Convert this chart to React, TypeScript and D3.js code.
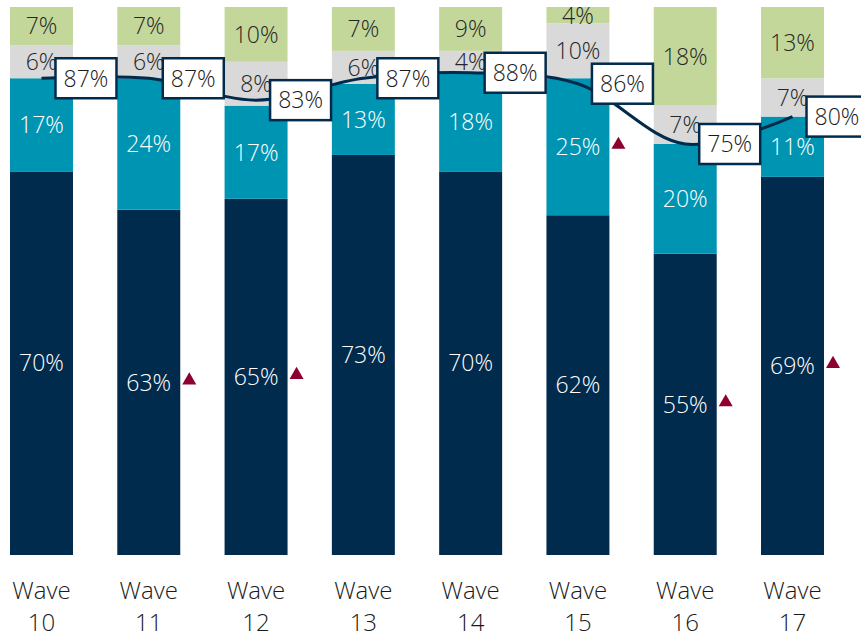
import React, { useRef, useEffect } from 'react';
import * as d3 from 'd3';

const waves = ['10', '11', '12', '13', '14', '15', '16', '17'];
const navyValues = [70, 63, 65, 73, 70, 62, 55, 69];
const tealValues = [17, 24, 17, 13, 18, 25, 20, 11];
const grayValues = [6, 6, 8, 6, 4, 10, 7, 7];
const greenValues = [7, 7, 10, 7, 9, 4, 18, 13];
const totalValues = [87, 87, 83, 87, 88, 86, 75, 80];
// which segment carries a significance triangle, per wave
const upMarks = [null, 'navy', 'navy', null, null, 'teal', 'navy', 'navy'];

const seriesKeys = ['navy', 'teal', 'gray', 'green'];
const fills: Record<string, string> = {
  navy: '#002b4d',
  teal: '#0094b3',
  gray: '#d9d9d9',
  green: '#c4d79b',
};
const textFills: Record<string, string> = {
  navy: '#ffffff',
  teal: '#ffffff',
  gray: '#262626',
  green: '#262626',
};

const W = 861;
const H = 638;
const FONT = "'Open Sans', 'Noto Sans', sans-serif";
const FS = 23;

export default function App() {
  const svgRef = useRef<SVGSVGElement>(null);

  useEffect(() => {
    document.body.style.margin = '0';
    if (!svgRef.current) return;
    const svg = d3.select(svgRef.current);
    svg.selectAll('*').remove();

    const rows = waves.map((w, i) => ({
      wave: w,
      navy: navyValues[i],
      teal: tealValues[i],
      gray: grayValues[i],
      green: greenValues[i],
    }));

    const x = d3.scaleBand<string>()
      .domain(waves)
      .range([10, 824])
      .paddingInner(0.413)
      .paddingOuter(0);

    const y = d3.scaleLinear().domain([0, 100]).range([555, 7]).clamp(true);

    const layers = d3.stack<any>().keys(seriesKeys)(rows);
    // labels are rounded (sums of 99-101); the top segment always closes at 100%
    const topKey = seriesKeys[seriesKeys.length - 1];
    const top = (d: any, key: string) => (key === topKey ? y(100) : y(d[1]));

    const g = svg.append('g');
    layers.forEach(layer => {
      g.selectAll(`.bar-${layer.key}`)
        .data(layer)
        .join('rect')
        .attr('x', d => x(d.data.wave)!)
        .attr('width', x.bandwidth())
        .attr('y', d => top(d, layer.key))
        .attr('height', d => y(d[0]) - top(d, layer.key))
        .attr('fill', fills[layer.key]);
    });

    // segment labels
    layers.forEach(layer => {
      g.selectAll(`.lab-${layer.key}`)
        .data(layer)
        .join('text')
        .attr('x', d => x(d.data.wave)! + x.bandwidth() / 2)
        .attr('y', d => (y(d[0]) + top(d, layer.key)) / 2)
        .attr('dy', '0.36em')
        .attr('text-anchor', 'middle')
        .attr('font-family', FONT)
        .attr('font-size', FS)
        .attr('font-weight', 300)
        .attr('fill', textFills[layer.key])
        .text(d => `${d.data[layer.key]}%`);
    });

    // significance triangles
    upMarks.forEach((key, i) => {
      if (!key) return;
      const layer = layers.find(l => l.key === key)!;
      const d = layer[i];
      const cx = x(waves[i])! + x.bandwidth() + 9;
      const cy = (y(d[0]) + y(d[1])) / 2 - 2;
      g.append('path')
        .attr('d', d3.symbol().type(d3.symbolTriangle).size(85)())
        .attr('transform', `translate(${cx},${cy})`)
        .attr('fill', '#8c0032');
    });

    // total line
    const pts = totalValues.map((v, i) => [x(waves[i])! + x.bandwidth() / 2, y(v)] as [number, number]);
    const line = d3.line().curve(d3.curveCatmullRom.alpha(0.5));
    g.append('path')
      .attr('d', line(pts))
      .attr('fill', 'none')
      .attr('stroke', '#002b4d')
      .attr('stroke-width', 3);

    // total labels
    const boxW = 61;
    const boxH = 40;
    const boxes = g.selectAll('.tot')
      .data(totalValues)
      .join('g')
      .attr('transform', (d, i) => `translate(${pts[i][0] + 14},${pts[i][1] - boxH / 2})`);
    boxes.append('rect')
      .attr('width', boxW)
      .attr('height', boxH)
      .attr('fill', '#ffffff')
      .attr('stroke', '#002b4d')
      .attr('stroke-width', 2.5);
    boxes.append('text')
      .attr('x', boxW / 2)
      .attr('y', boxH / 2)
      .attr('dy', '0.36em')
      .attr('text-anchor', 'middle')
      .attr('font-family', FONT)
      .attr('font-size', FS)
      .attr('font-weight', 300)
      .attr('fill', '#1a1a1a')
      .text(d => `${d}%`);

    // x axis labels
    const ax = g.selectAll('.xl')
      .data(waves)
      .join('text')
      .attr('text-anchor', 'middle')
      .attr('font-family', FONT)
      .attr('font-size', 24)
      .attr('font-weight', 300)
      .attr('fill', '#1a1a1a');
    ax.append('tspan')
      .attr('x', d => x(d)! + x.bandwidth() / 2)
      .attr('y', 599)
      .text('Wave');
    ax.append('tspan')
      .attr('x', d => x(d)! + x.bandwidth() / 2)
      .attr('y', 631)
      .text(d => d);
  }, []);

  return <svg ref={svgRef} width={W} height={H} style={{ display: 'block' }} />;
}
